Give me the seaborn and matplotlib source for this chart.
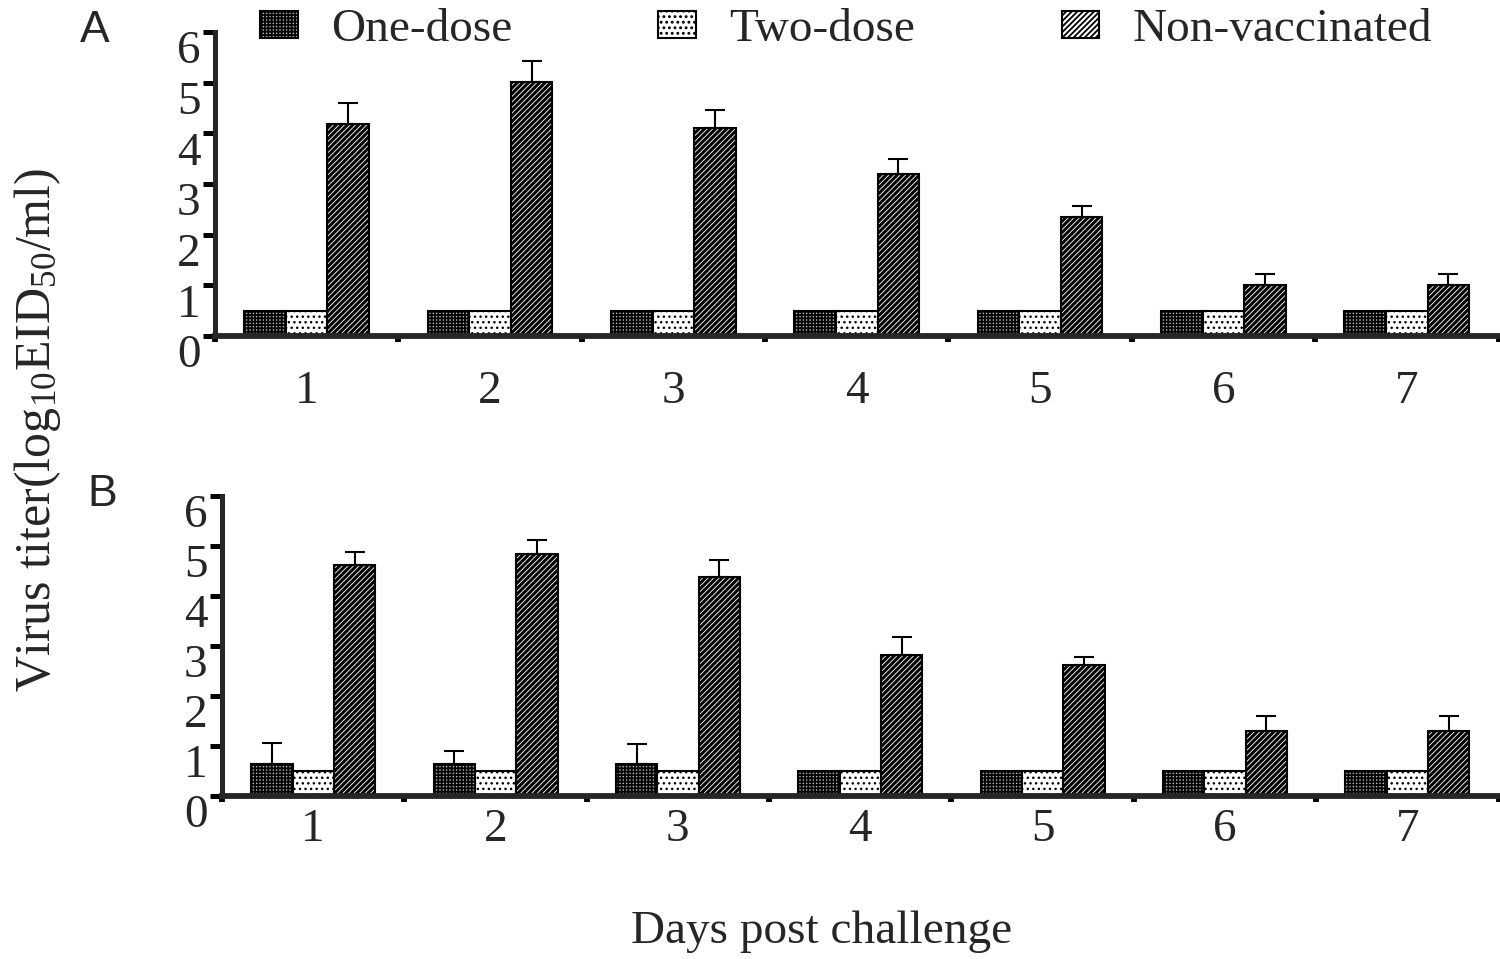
import numpy as np
import pandas as pd
import matplotlib
matplotlib.use('Agg')
import matplotlib.pyplot as plt
import matplotlib.transforms as mtransforms
from matplotlib.patches import Patch
import seaborn as sns

# Datos (log10 EID50/ml)
days = ['1', '2', '3', '4', '5', '6', '7']
groups = ['One-dose', 'Two-dose', 'Non-vaccinated']

# Panel A
a_one = [0.5, 0.5, 0.5, 0.5, 0.5, 0.5, 0.5]
a_two = [0.5, 0.5, 0.5, 0.5, 0.5, 0.5, 0.5]
a_non = [4.18, 5.01, 4.10, 3.19, 2.34, 1.01, 1.01]
a_one_err = [0, 0, 0, 0, 0, 0, 0]
a_two_err = [0, 0, 0, 0, 0, 0, 0]
a_non_err = [0.41, 0.42, 0.36, 0.30, 0.23, 0.22, 0.22]

# Panel B
b_one = [0.65, 0.65, 0.65, 0.5, 0.5, 0.5, 0.5]
b_two = [0.5, 0.5, 0.5, 0.5, 0.5, 0.5, 0.5]
b_non = [4.62, 4.84, 4.38, 2.82, 2.62, 1.30, 1.30]
b_one_err = [0.42, 0.26, 0.40, 0, 0, 0, 0]
b_two_err = [0, 0, 0, 0, 0, 0, 0]
b_non_err = [0.26, 0.28, 0.34, 0.36, 0.16, 0.30, 0.30]

facecolors = {'One-dose': '#b4b4b4', 'Two-dose': 'white', 'Non-vaccinated': 'white'}
hatches = {'One-dose': '+++++', 'Two-dose': '...', 'Non-vaccinated': '//////'}
hatch_lw = {'One-dose': 1.3, 'Two-dose': 1.0, 'Non-vaccinated': 2.2}

sns.set_theme(style='ticks')
plt.rcParams['font.family'] = ['Liberation Serif', 'DejaVu Serif']
plt.rcParams['mathtext.fontset'] = 'custom'
plt.rcParams['mathtext.rm'] = 'Liberation Serif'
plt.rcParams['mathtext.default'] = 'regular'
plt.rcParams['hatch.linewidth'] = 1.3
plt.rcParams['hatch.color'] = 'black'

FS = 34


def make_df(one, two, non, one_err, two_err, non_err):
	rows = []
	for g, vals, errs in zip(groups, [one, two, non], [one_err, two_err, non_err]):
		for d, v, e in zip(days, vals, errs):
			rows.append({'Day': d, 'Group': g, 'Titer': v, 'Err': e})
	return pd.DataFrame(rows)


def style_hatch(patch, g):
	patch.set_hatch(hatches[g])
	if hasattr(patch, 'set_hatch_linewidth'):
		patch.set_hatch_linewidth(hatch_lw[g])


def draw_panel(ax, df, xpad):
	sns.barplot(data=df, x='Day', y='Titer', hue='Group', order=days, hue_order=groups,
				palette=facecolors, edgecolor='black', linewidth=1.5, width=0.68,
				errorbar=None, legend=False, ax=ax, saturation=1)
	for g, cont in zip(groups, ax.containers):
		sub = df[df['Group'] == g].set_index('Day').loc[days]
		xs, ys, es = [], [], []
		for bar, (v, e) in zip(cont.patches, zip(sub['Titer'], sub['Err'])):
			style_hatch(bar, g)
			if e > 0:
				xs.append(bar.get_x() + bar.get_width() / 2)
				ys.append(v)
				es.append(e)
		if xs:
			ax.errorbar(xs, ys, yerr=[np.zeros(len(es)), es], fmt='none', ecolor='black',
						elinewidth=1.5, capsize=7, capthick=1.5, zorder=1)
	ax.set_xlim(-0.5, 6.5)
	ax.set_ylim(0, 6)
	ax.set_yticks(range(7))
	ax.set_xticks(range(7))
	ax.set_xticks(np.arange(-0.5, 7, 1), minor=True)
	ax.set_xlabel('')
	ax.set_ylabel('')
	sns.despine(ax=ax)
	ax.spines['left'].set_linewidth(3.6)
	ax.spines['bottom'].set_linewidth(4.2)
	ax.tick_params(axis='y', which='major', direction='out', length=8.5, width=3.6,
				   labelsize=FS, pad=2, color='black')
	ax.tick_params(axis='x', which='major', length=0, labelsize=FS, pad=xpad)
	ax.tick_params(axis='x', which='minor', direction='out', length=4.5, width=4.2, color='black')
	off = mtransforms.ScaledTranslation(0, -0.15, ax.figure.dpi_scale_trans)
	for lab in ax.get_yticklabels():
		lab.set_transform(lab.get_transform() + off)


fig = plt.figure(figsize=(15, 9.59), dpi=100)
ax_a = fig.add_axes([215 / 1500, 1 - 336 / 959, 1 - 215 / 1500 - 0.001, (336 - 32) / 959])
ax_b = fig.add_axes([222 / 1500, 1 - 796 / 959, 1 - 222 / 1500 - 0.001, (796 - 496) / 959])

draw_panel(ax_a, make_df(a_one, a_two, a_non, a_one_err, a_two_err, a_non_err), xpad=25)
draw_panel(ax_b, make_df(b_one, b_two, b_non, b_one_err, b_two_err, b_non_err), xpad=9)

# Leyenda común arriba
handles = []
for g in groups:
	h = Patch(facecolor=facecolors[g], edgecolor='black', linewidth=1.5)
	style_hatch(h, g)
	handles.append(h)
fig.legend(handles, groups, loc='center left', bbox_to_anchor=(260 / 1500, 1 - 30 / 959),
		   ncol=3, frameon=False, fontsize=FS, handlelength=0.8, handleheight=0.5,
		   handletextpad=0.7, columnspacing=3.1, borderpad=0, borderaxespad=0)

fig.text(95 / 1500, 1 - 30 / 959, 'A', fontsize=32, family=['Liberation Sans', 'DejaVu Sans'],
		 ha='center', va='center')
fig.text(102 / 1500, 1 - 494 / 959, 'B', fontsize=32, family=['Liberation Sans', 'DejaVu Sans'],
		 ha='center', va='center')

fig.text(38 / 1500, 1 - 430 / 959, 'Virus titer(log$_{10}$EID$_{50}$/ml)', fontsize=36,
		 rotation=90, ha='center', va='center')
fig.text(822 / 1500, 1 - 932 / 959, 'Days post challenge', fontsize=FS, ha='center', va='center')

fig.savefig('out.png', dpi=100)
